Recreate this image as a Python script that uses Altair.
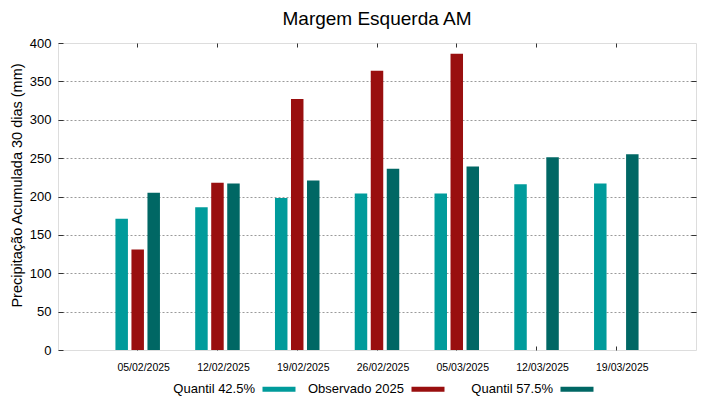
import altair as alt
import pandas as pd

dates = ["05/02/2025", "12/02/2025", "19/02/2025", "26/02/2025",
         "05/03/2025", "12/03/2025", "19/03/2025"]
q425 = [171, 186, 198, 204, 204, 216, 217]
obs = [131, 218, 327, 364, 386, None, None]
q575 = [205, 217, 221, 236, 239, 251, 255]
series = ["Quantil 42.5%", "Observado 2025", "Quantil 57.5%"]
colors = ["#009b9b", "#990f0f", "#006764"]
y_ticks = [0, 50, 100, 150, 200, 250, 300, 350, 400]
grid_ticks = [50, 100, 150, 200, 250, 300, 350]

rows = []
for d, a, b, c in zip(dates, q425, obs, q575):
    for s, v in zip(series, (a, b, c)):
        if v is not None:
            rows.append({"data": d, "serie": s, "valor": v})
df = pd.DataFrame(rows)

FONT = "Liberation Sans"

x_scale = alt.Scale(domain=dates, paddingInner=0.442, paddingOuter=0.72)
y_scale = alt.Scale(domain=[0, 400], nice=False)
off_scale = alt.Scale(domain=series, paddingInner=0.22, paddingOuter=0)
color_scale = alt.Scale(domain=series, range=colors)

# legend swatch drawn to the right of its (right-aligned) label
SWATCH = ("M -5.515 0 L -5.51 0 "
          "M 1.4545 -0.15 L 3.4545 -0.15 L 3.4545 0.15 L 1.4545 0.15 Z")

bars = alt.Chart(df).mark_bar(strokeWidth=0).encode(
    x=alt.X("data:N", scale=x_scale, axis=alt.Axis(
        orient="bottom", offset=-4, tickSize=4, domain=False, grid=False,
        labelAngle=0, labelFont=FONT, labelFontSize=10.5, labelPadding=12,
        labelOffset=6, labelColor="#000", tickColor="#333", title=None)),
    xOffset=alt.XOffset("serie:N", scale=off_scale),
    y=alt.Y("valor:Q", scale=y_scale, axis=alt.Axis(
        orient="left", values=y_ticks, offset=-5, tickSize=5, domain=False,
        grid=False, labelPadding=7, labelFont=FONT, labelFontSize=13,
        labelColor="#000", tickColor="#333",
        title="Precipitação Acumulada 30 dias (mm)", titleFont=FONT,
        titleFontSize=14.5, titleFontWeight="normal", titleColor="#000",
        titleAngle=270, titleX=-46, titleY=142, titleAlign="center",
        titleBaseline="middle")),
    color=alt.Color("serie:N", scale=color_scale, legend=alt.Legend(
        orient="none", legendX=164, legendY=329.5, direction="horizontal",
        columns=3, title=None,
        symbolType=SWATCH,
        symbolSize=1089, symbolStrokeWidth=0, symbolOpacity=1,
        labelAlign="right", labelOffset=0, labelFont=FONT,
        labelFontSize=13, labelColor="#000", columnPadding=0,
        gridAlign="all")),
)

frame_axes = alt.Chart(df).mark_bar(opacity=0).encode(
    x=alt.X("data:N", scale=x_scale, axis=alt.Axis(
        orient="top", offset=-4, tickSize=4, labels=False, domain=False,
        grid=False, tickColor="#333", title=None)),
    xOffset=alt.XOffset("serie:N", scale=off_scale),
    y=alt.Y("valor:Q", scale=y_scale, axis=alt.Axis(
        orient="right", values=grid_ticks, offset=-5, tickSize=5,
        labels=False, domain=False, grid=True, gridDash=[2, 2],
        gridColor="#9a9a9a", gridWidth=1, tickColor="#333", title=None)),
)

chart = alt.layer(frame_axes, bars).resolve_axis(
    x="independent", y="independent"
).properties(
    width=638, height=307,
    autosize=alt.AutoSizeParams(type="none"),
    padding={"left": 50, "top": 35, "right": 15, "bottom": 46},
    title=alt.TitleParams("Margem Esquerda AM", font=FONT, fontSize=19,
                          fontWeight="normal", color="#000", anchor="middle",
                          offset=8),
).configure_view(stroke="#333", strokeWidth=1).configure(font=FONT)

chart.save("out.html", embed_options={"renderer": "svg", "actions": False})
